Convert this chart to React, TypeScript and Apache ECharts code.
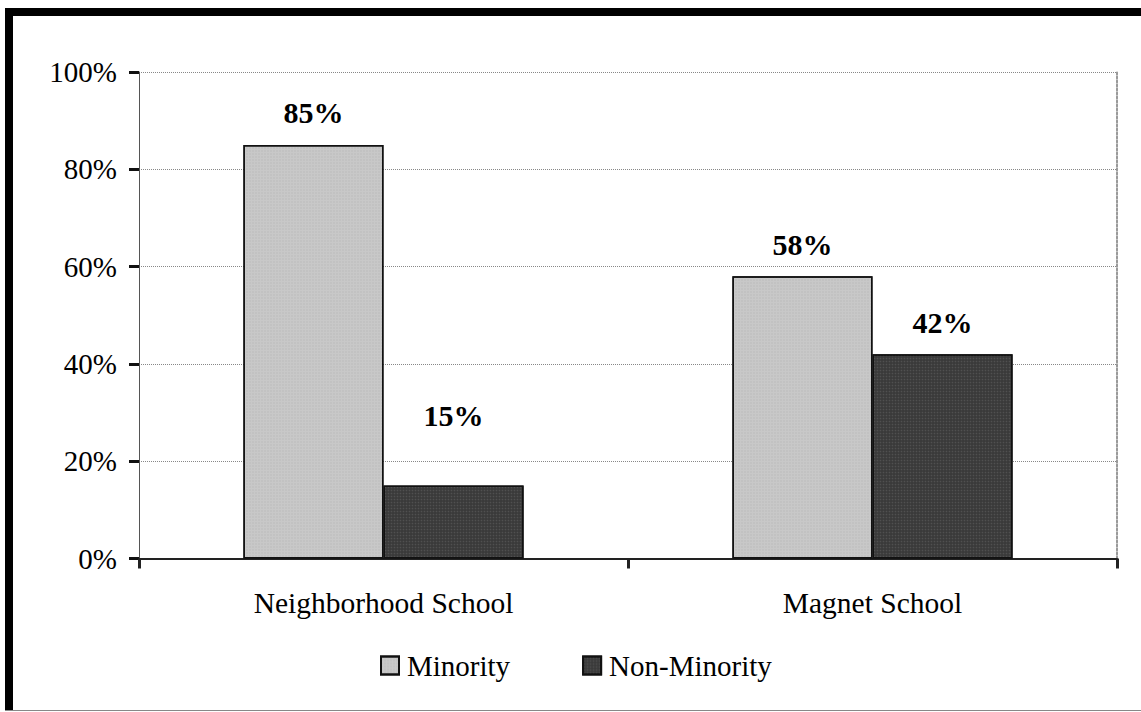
import React, { useEffect, useRef } from "react";
import * as echarts from "echarts";

const categories = ["Neighborhood School", "Magnet School"];
const minority = [85, 58];
const nonMinority = [15, 42];
const labelDistMinority = [17, 17];
const labelDistNonMinority = [55, 17];
const yTicks = { min: 0, max: 100, interval: 20 };

const FONT = "'Liberation Serif', 'Times New Roman', serif";

export default function App() {
  const ref = useRef<HTMLDivElement>(null);
  useEffect(() => {
    document.body.style.margin = "0";
    const chart = echarts.init(ref.current!, null, { renderer: "svg" });
    const mk = (vals: number[], dists: number[]) =>
      vals.map((v, i) => ({
        value: v,
        label: { distance: dists[i] },
      }));
    chart.setOption({
      animation: false,
      backgroundColor: "#ffffff",
      textStyle: { fontFamily: FONT, color: "#000" },
      grid: { left: 139, right: 24, top: 72, bottom: 153.5 },
      legend: {
        left: 380,
        top: 651,
        padding: 0,
        itemWidth: 18,
        itemHeight: 18,
        itemGap: 72,
        icon: "rect",
        textStyle: { fontFamily: FONT, fontSize: 29, color: "#000", padding: [0, 0, 0, 3] },
        data: ["Minority", "Non-Minority"],
      },
      xAxis: {
        type: "category",
        data: categories,
        axisLine: { lineStyle: { color: "#222", width: 2 } },
        axisTick: { show: true, length: 10, lineStyle: { color: "#222", width: 3 } },
        axisLabel: { fontFamily: FONT, fontSize: 29.5, color: "#000", margin: 29 },
      },
      yAxis: [
        {
          type: "value",
          min: yTicks.min,
          max: yTicks.max,
          interval: yTicks.interval,
          axisLine: { show: true, lineStyle: { color: "#555", width: 1 } },
          axisTick: { show: true, length: 10, lineStyle: { color: "#111", width: 3 } },
          axisLabel: {
            fontFamily: FONT,
            fontSize: 29,
            color: "#000",
            margin: 22,
            formatter: "{value}%",
          },
          splitLine: { show: true, lineStyle: { color: "#888", type: "dotted", width: 1 } },
        },
        {
          type: "value",
          position: "right",
          min: yTicks.min,
          max: yTicks.max,
          interval: yTicks.interval,
          axisLine: { show: true, lineStyle: { color: "#999", type: "dotted", width: 2 } },
          axisTick: { show: false },
          axisLabel: { show: false },
          splitLine: { show: false },
        },
      ],
      series: [
        {
          name: "Minority",
          type: "bar",
          data: mk(minority, labelDistMinority),
          barGap: "0%",
          barCategoryGap: "42.7%",
          itemStyle: {
            color: "#c8c8c8",
            borderColor: "#111",
            borderWidth: 1.5,
            decal: {
              symbol: "rect",
              symbolSize: 0.6,
              dashArrayX: [2, 1],
              dashArrayY: [2, 1],
              color: "rgba(150,150,150,0.45)",
            },
          },
          label: {
            show: true,
            position: "top",
            formatter: "{c}%",
            fontFamily: FONT,
            fontSize: 30,
            fontWeight: "bold",
            color: "#000",
          },
        },
        {
          name: "Non-Minority",
          type: "bar",
          data: mk(nonMinority, labelDistNonMinority),
          itemStyle: {
            color: "#3a3a3a",
            borderColor: "#111",
            borderWidth: 1.5,
            decal: {
              symbol: "circle",
              symbolSize: 0.5,
              dashArrayX: [3, 0],
              dashArrayY: [3, 0],
              color: "rgba(120,120,120,0.35)",
            },
          },
          label: {
            show: true,
            position: "top",
            formatter: "{c}%",
            fontFamily: FONT,
            fontSize: 30,
            fontWeight: "bold",
            color: "#000",
          },
        },
      ],
      graphic: [
        { type: "rect", shape: { x: 5, y: 8, width: 1136, height: 8 }, style: { fill: "#000" } },
        { type: "rect", shape: { x: 5, y: 8, width: 8, height: 703 }, style: { fill: "#000" } },
        { type: "line", shape: { x1: 5, y1: 710.5, x2: 1141, y2: 710.5 }, style: { stroke: "#888", lineWidth: 1 } },
      ],
    });
    return () => chart.dispose();
  }, []);
  return <div ref={ref} style={{ width: 1141, height: 712 }} />;
}
